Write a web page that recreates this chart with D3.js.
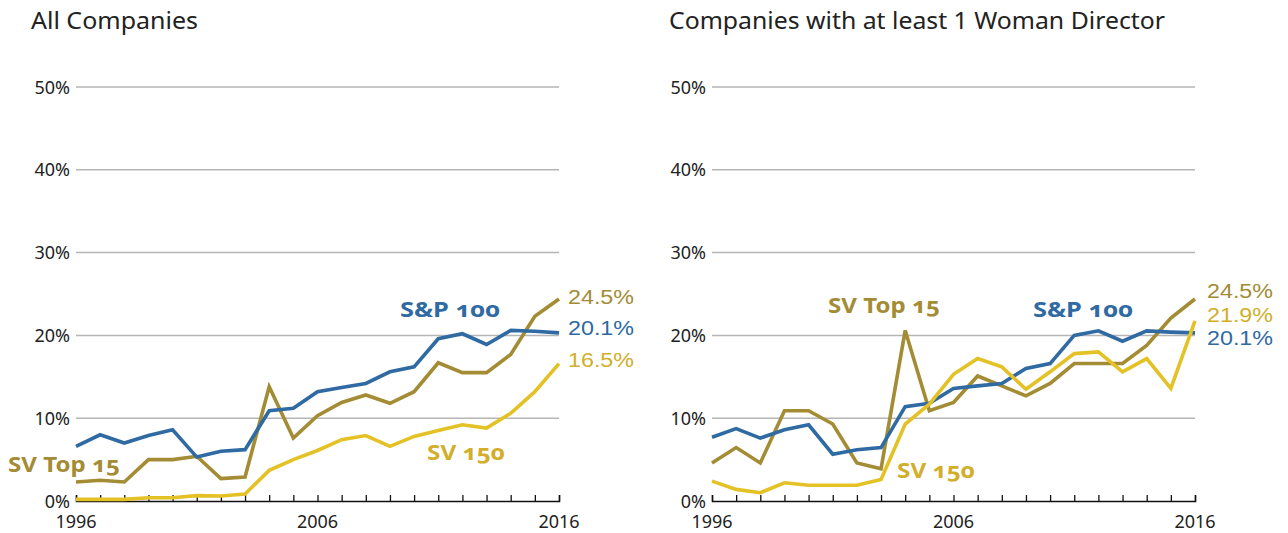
<!DOCTYPE html>
<html>
<head>
<meta charset="utf-8">
<script src="https://cdn.jsdelivr.net/npm/d3@7"></script>
<style>
  html, body { margin: 0; padding: 0; background: #fff; }
  svg text { font-family: "Noto Sans", "Open Sans", sans-serif; }
  .lbl { font-feature-settings: "onum" 1; font-variant-numeric: oldstyle-nums; }
  .val { font-family: "Liberation Sans", Arial, sans-serif; }
</style>
</head>
<body>
<svg id="chart" width="1288" height="533"></svg>
<script>
const years = d3.range(1996, 2017);
const yTicks = [0, 10, 20, 30, 40, 50];
const xTickLabels = [1996, 2006, 2016];
const panelTitles = ["All Companies", "Companies with at least 1 Woman Director"];

// Panel 1: All Companies
const allSP100 = [6.6, 8.0, 7.0, 7.9, 8.6, 5.3, 6.0, 6.2, 10.9, 11.2, 13.2, 13.7, 14.2, 15.6, 16.2, 19.6, 20.2, 18.9, 20.6, 20.5, 20.3];
const allSVTop15 = [2.3, 2.5, 2.3, 5.0, 5.0, 5.4, 2.7, 2.9, 13.8, 7.6, 10.3, 11.9, 12.8, 11.8, 13.2, 16.7, 15.5, 15.5, 17.7, 22.3, 24.4];
const allSV150 = [0.2, 0.2, 0.2, 0.4, 0.4, 0.65, 0.6, 0.85, 3.7, 5.0, 6.1, 7.4, 7.9, 6.6, 7.8, 8.5, 9.2, 8.8, 10.6, 13.2, 16.6];

// Panel 2: Companies with at least 1 woman director
const womSP100 = [7.7, 8.75, 7.6, 8.6, 9.2, 5.65, 6.2, 6.45, 11.4, 11.8, 13.6, 13.9, 14.2, 16.0, 16.6, 20.0, 20.55, 19.3, 20.55, 20.4, 20.3];
const womSVTop15 = [4.6, 6.45, 4.6, 10.9, 10.9, 9.3, 4.6, 3.9, 20.6, 10.9, 11.9, 15.1, 13.9, 12.7, 14.2, 16.6, 16.6, 16.6, 18.8, 22.1, 24.4];
const womSV150 = [2.4, 1.4, 1.0, 2.2, 1.9, 1.9, 1.9, 2.6, 9.3, 11.7, 15.3, 17.2, 16.2, 13.5, 15.6, 17.8, 18.0, 15.6, 17.2, 13.6, 21.75];

const endLabels1 = ["24.5%", "20.1%", "16.5%"];
const endLabels2 = ["24.5%", "21.9%", "20.1%"];
const seriesNames = ["S&P 100", "SV Top 15", "SV 150"];

const C_BLUE = "#2f6aa3", C_OLIVE = "#a38c34", C_YELLOW = "#e4c125", C_YTEXT = "#d2ae2a";

const svg = d3.select("#chart");

function panel(x0, x1, titleX, titleLen, data, labels) {
  const x = d3.scaleLinear().domain([1996, 2016]).range([x0, x1]);
  const y = d3.scaleLinear().domain([0, 50]).range([501, 87]);
  const g = svg.append("g");

  // gridlines
  g.selectAll(".grid").data(yTicks.filter(d => d > 0)).join("line")
    .attr("x1", x0).attr("x2", x1)
    .attr("y1", d => y(d)).attr("y2", d => y(d))
    .attr("stroke", "#b5b5b5").attr("stroke-width", 1.5);

  // y labels
  g.selectAll(".yl").data(yTicks).join("text")
    .attr("x", x0 - 6).attr("y", d => y(d) + 6.5)
    .attr("text-anchor", "end").attr("font-size", 18).attr("fill", "#222")
    .text(d => d + "%");

  // x axis
  const axis = d3.axisBottom(x).tickValues(years).tickSize(-6).tickFormat("");
  const ax = g.append("g").attr("transform", `translate(0,${y(0)})`).call(axis);
  ax.select(".domain").attr("stroke", "#111").attr("stroke-width", 1.5);
  ax.selectAll(".tick line").attr("stroke", "#111").attr("stroke-width", 1.3);

  g.selectAll(".xl").data(xTickLabels).join("text")
    .attr("x", d => x(d)).attr("y", 528)
    .attr("text-anchor", "middle").attr("font-size", 18).attr("fill", "#222")
    .text(d => d);

  // title
  g.append("text").attr("x", titleX).attr("y", 29)
    .attr("font-size", 23).attr("fill", "#222")
    .attr("textLength", titleLen).attr("lengthAdjust", "spacingAndGlyphs")
    .text(data.title);

  const line = d3.line().x((d, i) => x(years[i])).y(d => y(d));
  const order = [[data.olive, C_OLIVE], [data.blue, C_BLUE], [data.yellow, C_YELLOW]];
  order.forEach(([vals, col]) => {
    g.append("path").datum(vals).attr("d", line)
      .attr("fill", "none").attr("stroke", col).attr("stroke-width", 3.6)
      .attr("stroke-linejoin", "miter");
  });

  labels.forEach(l => {
    g.append("text").attr("class", l.bold ? "lbl" : "val")
      .attr("x", l.x).attr("y", l.y)
      .attr("font-size", l.size).attr("font-weight", l.bold ? 700 : 400)
      .attr("fill", l.color)
      .attr("textLength", l.len || null).attr("lengthAdjust", "spacingAndGlyphs")
      .text(l.text);
  });
}

panel(76, 559, 31, 167,
  { title: panelTitles[0], blue: allSP100, olive: allSVTop15, yellow: allSV150 },
  [
    { text: seriesNames[0], x: 400, y: 317, size: 22, bold: true, color: C_BLUE, len: 100 },
    { text: seriesNames[1], x: 8, y: 472, size: 22, bold: true, color: C_OLIVE, len: 112 },
    { text: seriesNames[2], x: 427, y: 460, size: 22, bold: true, color: C_YTEXT, len: 78 },
    { text: endLabels1[0], x: 568, y: 304, size: 20, color: C_OLIVE, len: 66 },
    { text: endLabels1[1], x: 568, y: 335, size: 20, color: C_BLUE, len: 66 },
    { text: endLabels1[2], x: 568, y: 367, size: 20, color: C_YTEXT, len: 66 }
  ]);

panel(712, 1195, 669, 496,
  { title: panelTitles[1], blue: womSP100, olive: womSVTop15, yellow: womSV150 },
  [
    { text: seriesNames[0], x: 1033, y: 317, size: 22, bold: true, color: C_BLUE, len: 100 },
    { text: seriesNames[1], x: 828, y: 313, size: 22, bold: true, color: C_OLIVE, len: 112 },
    { text: seriesNames[2], x: 897, y: 478, size: 22, bold: true, color: C_YTEXT, len: 78 },
    { text: endLabels2[0], x: 1207, y: 298, size: 20, color: C_OLIVE, len: 66 },
    { text: endLabels2[1], x: 1207, y: 322, size: 20, color: C_YTEXT, len: 66 },
    { text: endLabels2[2], x: 1207, y: 345, size: 20, color: C_BLUE, len: 66 }
  ]);
</script>
</body>
</html>
